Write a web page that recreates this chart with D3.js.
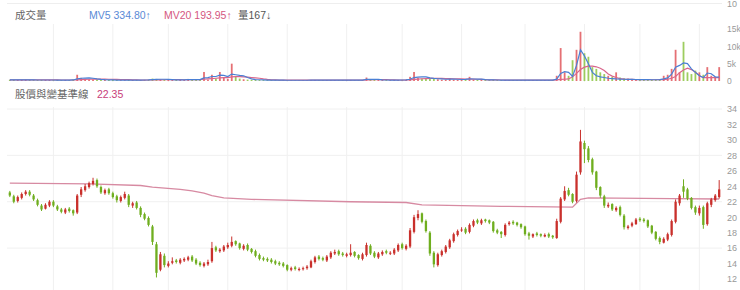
<!DOCTYPE html>
<html>
<head>
<meta charset="utf-8">
<script src="https://cdn.jsdelivr.net/npm/d3@7"></script>
<style>
  body { margin: 0; background: #fff; }
  text { font-family: "Liberation Sans", "Noto Sans CJK TC", sans-serif; }
</style>
</head>
<body>
<svg id="chart" width="740" height="290"></svg>
<script>
// daily candles (price)
const opens = [
  23.2, 22.7, 22.1, 22.5, 23.0, 23.3, 22.8, 22.2, 21.5, 21.1,
  21.5, 22.0, 21.4, 21.0, 20.6, 21.1, 20.9, 20.6, 22.9, 23.5,
  23.9, 24.3, 24.8, 23.9, 23.1, 23.6, 23.1, 22.7, 22.1, 22.5,
  22.8, 21.5, 21.9, 21.2, 20.4, 19.9, 18.8, 16.5, 13.2, 15.0,
  13.7, 14.1, 14.4, 14.1, 14.4, 14.5, 14.9, 14.5, 14.1, 13.7,
  13.9, 14.3, 16.1, 15.6, 15.7, 16.1, 16.3, 16.9, 16.6, 15.9,
  16.4, 15.9, 15.6, 15.1, 14.7, 14.6, 14.5, 14.3, 14.1, 14.0,
  13.8, 13.2, 13.5, 13.2, 13.3, 13.4, 13.5, 14.2, 14.9, 14.7,
  14.4, 14.8, 15.3, 15.6, 15.3, 15.0, 15.1, 15.5, 15.1, 14.6,
  15.1, 16.3, 15.4, 14.8, 15.2, 15.6, 15.3, 15.3, 15.7, 16.5,
  15.9, 16.2, 18.1, 19.9, 20.5, 19.5, 18.0, 15.4, 13.8, 15.1,
  15.5, 16.1, 16.9, 17.7, 18.3, 18.5, 18.1, 18.9, 19.6, 19.2,
  19.7, 19.6, 19.4, 18.3, 18.1, 17.7, 19.1, 19.4, 19.3, 19.1,
  18.8, 17.9, 17.5, 17.9, 17.8, 17.5, 17.8, 17.6, 17.3, 19.4,
  22.3, 23.5, 23.0, 22.1, 25.8, 29.6, 28.9, 27.5, 25.9, 23.9,
  22.7, 21.4, 21.7, 20.9, 21.3, 20.2, 18.6, 18.9, 19.1, 19.8,
  19.7, 19.6, 18.9, 18.1, 17.3, 16.7, 17.1, 17.7, 19.4, 21.8,
  24.0, 23.6, 22.5, 21.3, 20.5, 21.3, 19.1, 21.6, 22.2, 22.6
];
const closes = [
  22.8, 22.0, 22.6, 23.0, 23.3, 22.9, 22.3, 21.6, 21.0, 21.6,
  22.0, 21.5, 21.0, 20.7, 21.0, 20.8, 20.5, 22.8, 23.6, 24.0,
  24.4, 24.7, 24.0, 23.2, 23.5, 23.1, 22.6, 22.2, 22.6, 23.0,
  21.6, 21.8, 21.2, 20.3, 19.8, 19.0, 16.8, 12.8, 15.2, 13.8,
  14.0, 14.3, 14.2, 14.5, 14.6, 14.8, 14.4, 14.0, 13.8, 14.0,
  14.2, 16.0, 15.7, 15.8, 16.2, 16.4, 16.8, 16.5, 16.0, 16.3,
  15.8, 15.5, 15.0, 14.6, 14.5, 14.4, 14.2, 14.0, 13.9, 13.7,
  13.2, 13.4, 13.3, 13.3, 13.4, 13.6, 14.3, 14.8, 14.6, 14.5,
  14.9, 15.4, 15.5, 15.2, 15.1, 15.2, 15.4, 15.0, 14.7, 15.2,
  16.4, 15.3, 14.9, 15.3, 15.5, 15.4, 15.4, 15.8, 16.4, 16.0,
  16.3, 18.3, 20.0, 20.4, 19.4, 18.2, 15.3, 13.9, 15.2, 15.6,
  16.2, 17.0, 17.8, 18.2, 18.4, 18.0, 19.0, 19.5, 19.3, 19.6,
  19.5, 19.3, 18.2, 18.0, 17.8, 19.0, 19.3, 19.2, 19.0, 18.7,
  17.8, 17.6, 17.8, 17.7, 17.6, 17.7, 17.5, 17.4, 19.5, 22.4,
  23.4, 22.9, 22.0, 25.5, 29.8, 28.8, 27.4, 25.8, 23.8, 22.8,
  21.5, 21.6, 21.0, 21.2, 20.3, 18.7, 18.8, 19.2, 19.7, 19.6,
  19.5, 18.8, 18.0, 17.2, 16.8, 17.2, 17.8, 19.5, 22.0, 22.8,
  23.3, 22.4, 21.2, 20.6, 21.2, 19.0, 21.8, 22.3, 22.8, 23.6
];
const highs = [
  23.4, 22.9, 22.8, 23.2, 23.5, 23.5, 23.0, 22.4, 21.7, 21.8,
  22.2, 22.2, 21.6, 21.2, 21.2, 21.3, 21.0, 23.0, 23.9, 24.3,
  24.6, 25.1, 25.0, 24.1, 23.7, 23.8, 23.3, 22.9, 22.8, 23.3,
  23.0, 22.0, 22.1, 21.4, 20.6, 20.1, 19.0, 16.8, 15.5, 15.3,
  14.3, 14.8, 14.6, 14.7, 14.8, 15.0, 15.1, 14.7, 14.3, 14.2,
  14.5, 16.8, 16.3, 16.0, 16.4, 16.7, 17.5, 17.0, 16.7, 16.5,
  16.6, 16.0, 15.8, 15.3, 14.9, 14.8, 14.7, 14.5, 14.3, 14.2,
  13.9, 13.6, 13.7, 13.5, 13.6, 13.8, 14.5, 15.0, 15.1, 14.9,
  15.1, 15.6, 15.8, 15.8, 15.5, 15.4, 16.5, 15.6, 15.2, 15.4,
  16.7, 16.5, 15.6, 15.5, 15.7, 15.8, 15.6, 16.0, 16.6, 16.7,
  16.5, 18.6, 20.3, 20.9, 20.6, 19.7, 18.2, 15.6, 15.4, 15.8,
  16.4, 17.2, 18.0, 18.4, 18.7, 18.7, 19.2, 19.7, 19.8, 19.8,
  19.8, 19.7, 19.5, 18.5, 18.2, 19.2, 19.5, 19.6, 19.4, 19.2,
  18.9, 18.1, 17.9, 18.1, 17.9, 17.9, 18.0, 17.7, 19.8, 22.6,
  24.0, 23.8, 23.1, 25.9, 31.3, 29.9, 29.2, 27.7, 26.0, 24.0,
  22.9, 21.9, 21.8, 21.4, 21.5, 20.4, 19.0, 19.4, 19.9, 20.0,
  19.9, 19.7, 19.0, 18.2, 17.5, 17.4, 18.0, 19.7, 22.3, 23.0,
  24.9, 23.8, 22.6, 21.5, 21.5, 21.5, 22.0, 22.5, 23.0, 24.8
];
const lows = [
  22.6, 21.8, 21.9, 22.3, 22.8, 22.7, 22.1, 21.4, 20.8, 21.0,
  21.3, 21.3, 20.8, 20.5, 20.4, 20.6, 20.2, 20.4, 22.6, 23.3,
  23.7, 24.1, 23.8, 23.0, 22.9, 22.9, 22.4, 21.9, 21.9, 22.3,
  21.3, 21.2, 21.0, 20.0, 19.6, 18.8, 16.4, 12.2, 13.0, 13.5,
  13.5, 13.9, 14.0, 13.9, 14.2, 14.3, 14.2, 13.8, 13.6, 13.5,
  13.7, 14.1, 15.5, 15.4, 15.5, 15.9, 16.1, 16.3, 15.8, 15.7,
  15.6, 15.3, 14.8, 14.4, 14.3, 14.2, 14.0, 13.8, 13.7, 13.5,
  13.0, 13.0, 13.1, 13.0, 13.1, 13.2, 13.4, 14.0, 14.4, 14.3,
  14.2, 14.6, 15.1, 15.0, 14.9, 14.8, 14.9, 14.8, 14.5, 14.4,
  14.9, 15.1, 14.7, 14.6, 15.0, 15.2, 15.1, 15.1, 15.5, 15.8,
  15.7, 16.0, 17.9, 19.6, 19.2, 18.0, 15.0, 13.5, 13.6, 14.9,
  15.3, 15.9, 16.7, 17.5, 18.1, 17.8, 17.9, 18.7, 19.1, 19.0,
  19.3, 19.1, 18.0, 17.8, 17.3, 17.5, 18.9, 19.0, 18.8, 18.5,
  17.6, 17.1, 17.3, 17.5, 17.4, 17.4, 17.3, 17.2, 17.2, 19.2,
  22.1, 22.7, 21.8, 21.9, 25.5, 27.0, 27.1, 25.5, 23.5, 22.5,
  21.2, 21.2, 20.8, 20.7, 20.1, 18.4, 18.4, 18.7, 19.0, 19.4,
  19.3, 18.6, 17.8, 17.0, 16.5, 16.6, 16.9, 17.5, 19.2, 21.5,
  22.5, 22.2, 21.0, 20.3, 20.2, 18.5, 18.9, 21.3, 22.0, 22.4
];

// volume and its moving averages
const volumes = [
  350, 300, 280, 320, 400, 300, 260, 280, 310, 290,
  300, 270, 250, 260, 300, 280, 420, 1800, 900, 600,
  500, 450, 400, 350, 300, 280, 300, 260, 250, 240,
  300, 280, 260, 300, 320, 380, 700, 600, 500, 400,
  350, 300, 280, 300, 320, 600, 400, 350, 300, 2600,
  400, 1800, 700, 2600, 900, 600, 5000, 1200, 700, 500,
  400, 350, 300, 280, 260, 250, 240, 230, 220, 220,
  210, 220, 230, 220, 210, 220, 260, 300, 280, 250,
  240, 260, 280, 270, 250, 240, 300, 260, 240, 250,
  1000, 400, 300, 280, 270, 260, 250, 280, 320, 300,
  350, 1200, 2600, 900, 700, 600, 800, 700, 500, 400,
  350, 800, 400, 350, 300, 350, 1200, 400, 350, 300,
  300, 280, 300, 280, 260, 300, 280, 270, 260, 250,
  300, 280, 260, 250, 260, 270, 280, 300, 1500, 9500,
  2500, 1500, 6000, 9000, 14200, 8000, 7000, 4000, 3500, 2500,
  2000, 1500, 1200, 2500, 1000, 800, 700, 600, 500, 450,
  400, 380, 350, 400, 500, 1500, 1800, 3500, 9000, 2500,
  11300, 2500, 2000, 3000, 2500, 1800, 4000, 1500, 1200, 4000
];
const mv5 = [
  320, 310, 300, 300, 320, 320, 310, 290, 290, 290,
  290, 290, 280, 270, 270, 280, 300, 600, 800, 850,
  900, 800, 600, 450, 380, 340, 300, 280, 270, 260,
  260, 270, 270, 280, 290, 310, 400, 450, 500, 500,
  450, 400, 350, 320, 330, 380, 400, 420, 400, 900,
  1000, 1300, 1300, 1700, 1600, 1300, 2000, 1800, 1600, 1500,
  1000, 600, 420, 360, 310, 280, 260, 240, 230, 230,
  220, 220, 220, 220, 220, 220, 230, 250, 270, 270,
  270, 270, 270, 270, 260, 260, 270, 270, 270, 260,
  450, 480, 480, 450, 320, 290, 280, 270, 280, 290,
  300, 500, 1000, 1100, 1200, 1200, 900, 750, 650, 600,
  500, 550, 550, 500, 440, 450, 600, 580, 550, 520,
  400, 330, 300, 290, 280, 280, 280, 280, 270, 260,
  270, 270, 270, 270, 270, 260, 270, 280, 520, 2200,
  2700, 2500, 1300, 4500, 9000, 7200, 5000, 2500, 1500, 1200,
  1000, 800, 700, 600, 550, 500, 480, 450, 430, 400,
  400, 380, 360, 360, 380, 600, 900, 2000, 4000, 4500,
  5200, 5000, 3500, 2500, 1500, 1000, 2300, 2100, 1200, 1100
];
const mv20 = [
  300, 300, 300, 300, 300, 300, 300, 300, 300, 300,
  300, 300, 300, 290, 290, 290, 290, 350, 420, 460,
  500, 520, 530, 530, 520, 500, 480, 460, 440, 420,
  380, 340, 300, 280, 280, 290, 310, 330, 350, 360,
  370, 370, 370, 370, 360, 370, 380, 390, 400, 500,
  600, 700, 800, 900, 950, 1000, 1200, 1250, 1250, 1200,
  1100, 1000, 900, 800, 600, 450, 350, 300, 260, 240,
  230, 230, 230, 230, 230, 230, 230, 240, 250, 250,
  260, 260, 260, 260, 260, 260, 260, 260, 260, 260,
  300, 330, 360, 380, 380, 380, 360, 320, 290, 280,
  290, 320, 450, 550, 650, 700, 750, 780, 780, 760,
  700, 680, 650, 620, 600, 580, 560, 540, 500, 450,
  400, 350, 320, 300, 290, 280, 280, 280, 270, 270,
  270, 270, 270, 270, 270, 270, 270, 270, 300, 450,
  500, 600, 1200, 2200, 3300, 4000, 4300, 4300, 4100, 3700,
  3000, 2000, 1400, 1000, 700, 550, 480, 450, 420, 400,
  380, 370, 360, 360, 370, 400, 500, 800, 1300, 2400,
  3200, 3700, 3300, 2500, 1600, 950, 1000, 1000, 950, 950
];

// baseline line (candle index -> value)
const baseIdx = [0, 20, 33, 36, 43, 46, 49, 51, 54, 61, 86, 100, 104, 124, 142, 143, 144, 146, 167, 179];
const baseVals = [24.4, 24.3, 24.1, 23.9, 23.6, 23.4, 23.1, 22.8, 22.5, 22.3, 22.0, 21.9, 21.6, 21.4, 21.3, 21.8, 22.3, 22.5, 22.4, 22.35];

// ticks
const volTicks = [0, 5000, 10000, 15000];
const priceTicks = [12, 14, 16, 18, 20, 22, 24, 26, 28, 30, 32, 34];
const priceGrid = [16, 22, 28, 34];
const gridIdx = [11, 26, 40, 55, 70, 85, 99, 114, 130, 145, 159, 174];

const upColor = '#c9302c';
const downColor = '#6fae1f';

const svg = d3.select('#chart');
const n = closes.length;

const x = d3.scaleBand().domain(d3.range(n)).range([7, 722]).padding(0.42);
const cx = i => x(i) + x.bandwidth() / 2;
const yVol = d3.scaleLinear().domain([0, 15000]).range([81, 29]);
const yPrice = d3.scaleLinear().domain([12, 34]).range([279, 109]);

// remnant of the panel above
svg.append('line')
  .attr('x1', 7).attr('x2', 722).attr('y1', 3.5).attr('y2', 3.5)
  .attr('stroke', '#eeeeee')
svg.append('text')
  .attr('x', 727).attr('y', 5)
  .attr('dominant-baseline', 'middle')
  .attr('font-size', 9).attr('fill', '#999')
  .text('10')

// vertical grid lines
const grid = svg.append('g').attr('class', 'grid')
grid.selectAll('line.vv')
  .data(gridIdx)
  .enter()
  .append('line')
  .attr('x1', d => cx(d)).attr('x2', d => cx(d))
  .attr('y1', 24).attr('y2', 82)
  .attr('stroke', '#f0f0f0')
grid.selectAll('line.vp')
  .data(gridIdx)
  .enter()
  .append('line')
  .attr('x1', d => cx(d)).attr('x2', d => cx(d))
  .attr('y1', 107).attr('y2', 290)
  .attr('stroke', '#f0f0f0')
grid.selectAll('line.hp')
  .data(priceGrid)
  .enter()
  .append('line')
  .attr('x1', 7).attr('x2', 722)
  .attr('y1', d => yPrice(d)).attr('y2', d => yPrice(d))
  .attr('stroke', '#f0f0f0')

// volume bars
const volG = svg.append('g').attr('class', 'volume')
volG.selectAll('rect')
  .data(volumes)
  .enter()
  .append('rect')
  .attr('x', (d, i) => cx(i) - 0.9)
  .attr('width', 1.8)
  .attr('y', d => yVol(d))
  .attr('height', d => Math.max(0.5, yVol(0) - yVol(d)))
  .attr('fill', (d, i) => closes[i] >= opens[i] ? '#e0575c' : '#8cc443')
  .attr('opacity', 0.85)

const volLine = d3.line().x((d, i) => cx(i)).y(d => yVol(d))
volG.append('path')
  .attr('d', volLine(mv20))
  .attr('fill', 'none')
  .attr('stroke', '#d9668c')
  .attr('stroke-width', 1.2)
volG.append('path')
  .attr('d', volLine(mv5))
  .attr('fill', 'none')
  .attr('stroke', '#4a7fd4')
  .attr('stroke-width', 1.2)

// volume axis
const volAxis = d3.axisRight(yVol)
  .tickValues(volTicks)
  .tickSize(0)
  .tickFormat(d => d === 0 ? '0' : d / 1000 + 'k')
svg.append('g')
  .attr('transform', 'translate(726,0)')
  .call(volAxis)
  .call(g => g.select('.domain').remove())
  .call(g => g.selectAll('text').attr('fill', '#999').attr('font-size', 8.5).attr('x', 1)
    .style('font-family', '"Liberation Sans", sans-serif'))

// baseline in price panel
const baseLine = d3.line().x(d => cx(d[0])).y(d => yPrice(d[1]))
svg.append('path')
  .attr('d', baseLine(baseIdx.map((d, i) => [d, baseVals[i]])))
  .attr('fill', 'none')
  .attr('stroke', '#d78aa2')
  .attr('stroke-width', 1.3)

// candles
const candles = svg.append('g').attr('class', 'candles')
  .selectAll('g')
  .data(d3.range(n))
  .enter()
  .append('g')
candles.append('line')
  .attr('x1', i => cx(i)).attr('x2', i => cx(i))
  .attr('y1', i => yPrice(highs[i]))
  .attr('y2', i => yPrice(lows[i]))
  .attr('stroke', i => closes[i] >= opens[i] ? upColor : downColor)
  .attr('stroke-width', 1)
candles.append('rect')
  .attr('x', i => x(i))
  .attr('width', x.bandwidth())
  .attr('y', i => yPrice(Math.max(opens[i], closes[i])))
  .attr('height', i => Math.max(1, Math.abs(yPrice(opens[i]) - yPrice(closes[i]))))
  .attr('fill', i => closes[i] >= opens[i] ? upColor : downColor)

// price axis
const priceAxis = d3.axisRight(yPrice)
  .tickValues(priceTicks)
  .tickSize(0)
svg.append('g')
  .attr('transform', 'translate(726,0)')
  .call(priceAxis)
  .call(g => g.select('.domain').remove())
  .call(g => g.selectAll('text').attr('fill', '#999').attr('font-size', 9).attr('x', 1)
    .style('font-family', '"Liberation Sans", sans-serif'))

// headers
const head1 = svg.append('text').attr('x', 15).attr('y', 19).attr('font-size', 10.5)
head1.append('tspan').attr('fill', '#666').text('成交量')
head1.append('tspan').attr('x', 89).attr('fill', '#5a8ad6').text('MV5 334.80↑')
head1.append('tspan').attr('x', 164).attr('fill', '#d4577f').text('MV20 193.95↑')
head1.append('tspan').attr('x', 238).attr('fill', '#555').text('量167↓')

const head2 = svg.append('text').attr('x', 15).attr('y', 98).attr('font-size', 10.5)
head2.append('tspan').attr('fill', '#666').text('股價與變基準線')
head2.append('tspan').attr('x', 97).attr('fill', '#c8407a').text('22.35')
</script>
</body>
</html>
